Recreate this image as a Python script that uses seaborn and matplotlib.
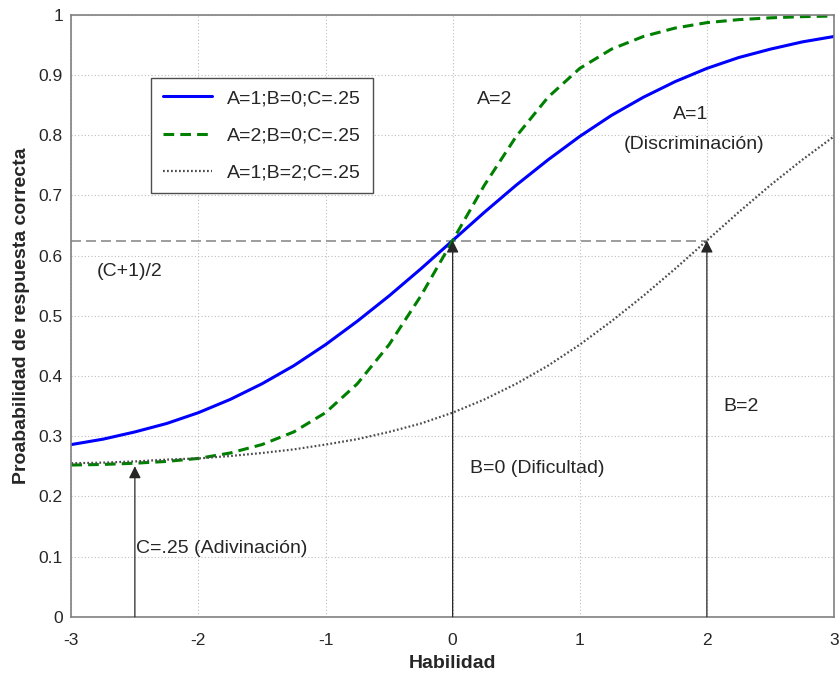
import numpy as np
import pandas as pd
import seaborn as sns
import matplotlib
matplotlib.use("Agg")
import matplotlib.pyplot as plt

# valores (paso 0.25 en habilidad)
habilidad = [-3.0, -2.75, -2.5, -2.25, -2.0, -1.75, -1.5, -1.25, -1.0, -0.75, -0.5, -0.25,
             0.0, 0.25, 0.5, 0.75, 1.0, 1.25, 1.5, 1.75, 2.0, 2.25, 2.5, 2.75, 3.0]

p_a1_b0 = [0.286, 0.295, 0.307, 0.321, 0.339, 0.361, 0.387, 0.417, 0.452, 0.491, 0.533, 0.578,
           0.625, 0.672, 0.717, 0.759, 0.798, 0.833, 0.863, 0.889, 0.911, 0.929, 0.943, 0.955, 0.964]

p_a2_b0 = [0.252, 0.253, 0.255, 0.258, 0.263, 0.272, 0.286, 0.307, 0.339, 0.387, 0.452, 0.533,
           0.625, 0.717, 0.798, 0.863, 0.911, 0.943, 0.964, 0.978, 0.987, 0.992, 0.995, 0.997, 0.998]

p_a1_b2 = [0.255, 0.256, 0.258, 0.261, 0.263, 0.267, 0.272, 0.278, 0.286, 0.295, 0.307, 0.321,
           0.339, 0.361, 0.387, 0.417, 0.452, 0.491, 0.533, 0.578, 0.625, 0.672, 0.717, 0.759, 0.798]

etiquetas = ["A=1;B=0;C=.25", "A=2;B=0;C=.25", "A=1;B=2;C=.25"]

x_ticks = [-3, -2, -1, 0, 1, 2, 3]
y_ticks = [0, 0.1, 0.2, 0.3, 0.4, 0.5, 0.6, 0.7, 0.8, 0.9, 1]
y_tick_labels = ["0", "0.1", "0.2", "0.3", "0.4", "0.5", "0.6", "0.7", "0.8", "0.9", "1"]

punto_medio = 0.625   # (C+1)/2
flechas_x = [-2.5, 0, 2]
flechas_y = [0.25, 0.625, 0.625]

sns.set_style("white")
plt.rcParams["font.family"] = ["Liberation Sans", "DejaVu Sans"]

fig = plt.figure(figsize=(8.39, 6.74), dpi=100)
ax = fig.add_axes([0.085, 0.085, 0.909, 0.893])

df = pd.DataFrame({"Habilidad": habilidad, "a1b0": p_a1_b0, "a2b0": p_a2_b0, "a1b2": p_a1_b2})

sns.lineplot(data=df, x="Habilidad", y="a1b0", ax=ax, color="#0000ff", linewidth=2.2,
             label=etiquetas[0])
sns.lineplot(data=df, x="Habilidad", y="a2b0", ax=ax, color="#008000", linewidth=2.2,
             linestyle=(0, (3.5, 2)), label=etiquetas[1])
sns.lineplot(data=df, x="Habilidad", y="a1b2", ax=ax, color="0.3", linewidth=1.6,
             linestyle=(0, (0.8, 1.0)), label=etiquetas[2])

# linea (C+1)/2
ax.plot([-3, flechas_x[2]], [punto_medio, punto_medio], color="0.55", linewidth=1.2,
        linestyle=(0, (6, 3)), zorder=1)

# flechas
for fx, fy in zip(flechas_x, flechas_y):
    ax.annotate("", xy=(fx, fy), xytext=(fx, 0),
                arrowprops=dict(arrowstyle="-|>", color="0.15", lw=0.9,
                                mutation_scale=18, shrinkA=0, shrinkB=0))

fs = 14
ax.text(0.33, 0.86, "A=2", fontsize=fs, ha="center", va="center", color="0.15")
ax.text(1.87, 0.834, "A=1", fontsize=fs, ha="center", va="center", color="0.15")
ax.text(1.9, 0.784, "(Discriminación)", fontsize=fs, ha="center", va="center", color="0.15")
ax.text(-2.8, 0.573, "(C+1)/2", fontsize=fs, ha="left", va="center", color="0.15")
ax.text(0.14, 0.246, "B=0 (Dificultad)", fontsize=fs, ha="left", va="center", color="0.15")
ax.text(2.13, 0.349, "B=2", fontsize=fs, ha="left", va="center", color="0.15")
ax.text(-2.49, 0.113, "C=.25 (Adivinación)", fontsize=fs, ha="left", va="center", color="0.15")

ax.set_xlim(-3, 3)
ax.set_ylim(0, 1)
ax.set_xticks(x_ticks)
ax.set_xticklabels([str(t) for t in x_ticks])
ax.set_yticks(y_ticks)
ax.set_yticklabels(y_tick_labels)
ax.tick_params(direction="in", length=5, color="0.4", labelsize=12.5, pad=6)
ax.tick_params(axis="x", pad=12)
ax.grid(True, color="0.75", linestyle=(0, (1, 2)), linewidth=0.8)
for s in ax.spines.values():
    s.set_color("0.5")
    s.set_linewidth(1.2)

ax.set_xlabel("Habilidad", fontsize=14, fontweight="bold", labelpad=5)
ax.set_ylabel("Proababilidad de respuesta correcta", fontsize=14, fontweight="bold", labelpad=6)

leg = ax.legend(loc="upper left", bbox_to_anchor=(0.105, 0.895), borderaxespad=0,
                fancybox=False, framealpha=1, edgecolor="0.3", fontsize=14,
                handlelength=2.5, labelspacing=1.0, borderpad=0.6)
leg.get_frame().set_linewidth(1.0)

fig.savefig("out.png", dpi=100)
